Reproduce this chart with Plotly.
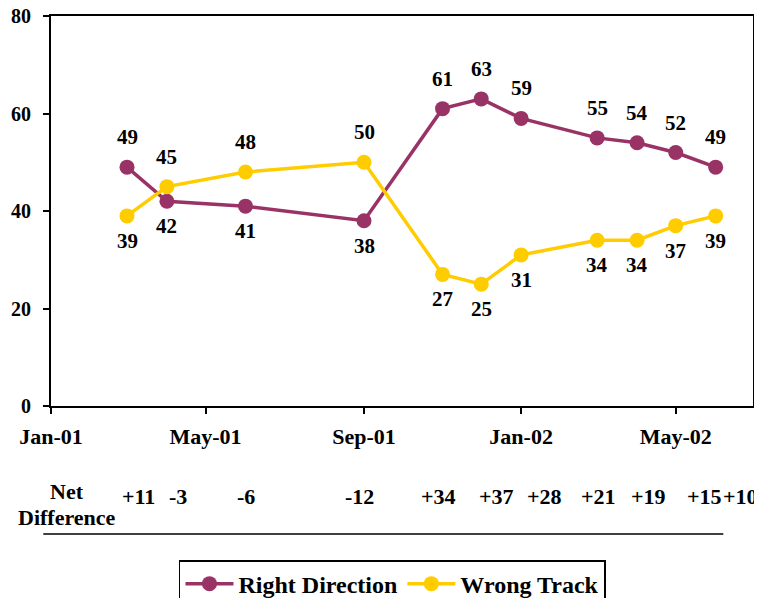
import plotly.graph_objects as go

# ---- data ----
dates = ["2001-03-01", "2001-04-01", "2001-06-01", "2001-09-01", "2001-11-01",
         "2001-12-01", "2002-01-01", "2002-03-01", "2002-04-01", "2002-05-01",
         "2002-06-01"]
right_direction = [49, 42, 41, 38, 61, 63, 59, 55, 54, 52, 49]
wrong_track = [39, 45, 48, 50, 27, 25, 31, 34, 34, 37, 39]
net_difference = ["+11", "-3", "-6", "-12", "+34", "+37", "+28", "+21", "+19", "+15", "+10"]
tick_dates = ["2001-01-01", "2001-05-01", "2001-09-01", "2002-01-01", "2002-05-01"]
tick_labels = ["Jan-01", "May-01", "Sep-01", "Jan-02", "May-02"]
y_ticks = [0, 20, 40, 60, 80]

# label side: 1 = above, -1 = below
rd_side = [1, -1, -1, -1, 1, 1, 1, 1, 1, 1, 1]
wt_side = [-1, 1, 1, 1, -1, -1, -1, -1, -1, -1, -1]
net_shift = [11, 11, 0, -5, -4, 15, 23, 1, 11, 29, 25]

MAROON = "#993366"
YELLOW = "#FFCC00"
FONT = "Liberation Serif, Times New Roman, serif"


def bold(size):
    return dict(family=FONT, size=size, color="black", weight="bold")


fig = go.Figure()
fig.add_trace(go.Scatter(x=dates, y=right_direction, mode="lines+markers",
                         name="Right Direction",
                         line=dict(color=MAROON, width=3.5),
                         marker=dict(color=MAROON, size=15)))
fig.add_trace(go.Scatter(x=dates, y=wrong_track, mode="lines+markers",
                         name="Wrong Track",
                         line=dict(color=YELLOW, width=3.5),
                         marker=dict(color=YELLOW, size=15)))

annos = []
for d, v, s in zip(dates, right_direction, rd_side):
    annos.append(dict(x=d, y=v, xref="x", yref="y", text=str(v), showarrow=False,
                      yshift=30 if s > 0 else -25, font=bold(21)))
for d, v, s in zip(dates, wrong_track, wt_side):
    annos.append(dict(x=d, y=v, xref="x", yref="y", text=str(v), showarrow=False,
                      yshift=30 if s > 0 else -25, font=bold(21)))
for d, t, sh in zip(dates, net_difference, net_shift):
    annos.append(dict(x=d, y=-0.233, xref="x", yref="paper", text=t, showarrow=False,
                      xshift=sh, xanchor="center", yanchor="middle", font=bold(22)))
annos.append(dict(x=0.0228, y=-0.2188, xref="paper", yref="paper", text="Net",
                  showarrow=False, xanchor="center", yanchor="middle", font=bold(22)))
annos.append(dict(x=0.0228, y=-0.2864, xref="paper", yref="paper", text="Difference",
                  showarrow=False, xanchor="center", yanchor="middle", font=bold(22)))

# the page body adds an 8px offset, so the figure is 8px smaller than the window
fig.update_layout(
    width=754, height=590,
    margin=dict(l=42.7, r=9.3, t=8, b=192, autoexpand=False),
    paper_bgcolor="white", plot_bgcolor="white",
    font=dict(family=FONT, color="black"),
    annotations=annos,
    shapes=[dict(type="line", xref="paper", yref="paper",
                 x0=-0.011, x1=0.9577, y0=-0.328, y1=-0.328,
                 line=dict(color="black", width=1.5))],
    showlegend=True,
    legend=dict(orientation="h", x=0.1823, y=-0.395, xanchor="left", yanchor="top",
                bordercolor="black", borderwidth=1.5, bgcolor="white",
                font=bold(24), itemwidth=48),
    xaxis=dict(type="date", range=["2001-01-01", "2002-06-30"],
               tickvals=tick_dates, ticktext=tick_labels,
               ticks="outside", ticklen=6, tickwidth=1.5, tickcolor="black",
               showline=True, linecolor="black", linewidth=2, mirror=True,
               showgrid=False, zeroline=False, ticklabelstandoff=4, automargin=False,
               ticklabeloverflow="allow", tickfont=bold(22)),
    yaxis=dict(range=[0, 80], tickvals=y_ticks,
               ticks="outside", ticklen=6, tickwidth=1.5, tickcolor="black",
               showline=True, linecolor="black", linewidth=2, mirror=True,
               showgrid=False, zeroline=False, ticklabelstandoff=8, automargin=False,
               ticklabeloverflow="allow", tickfont=bold(20)),
)

fig.write_html("out.html")
